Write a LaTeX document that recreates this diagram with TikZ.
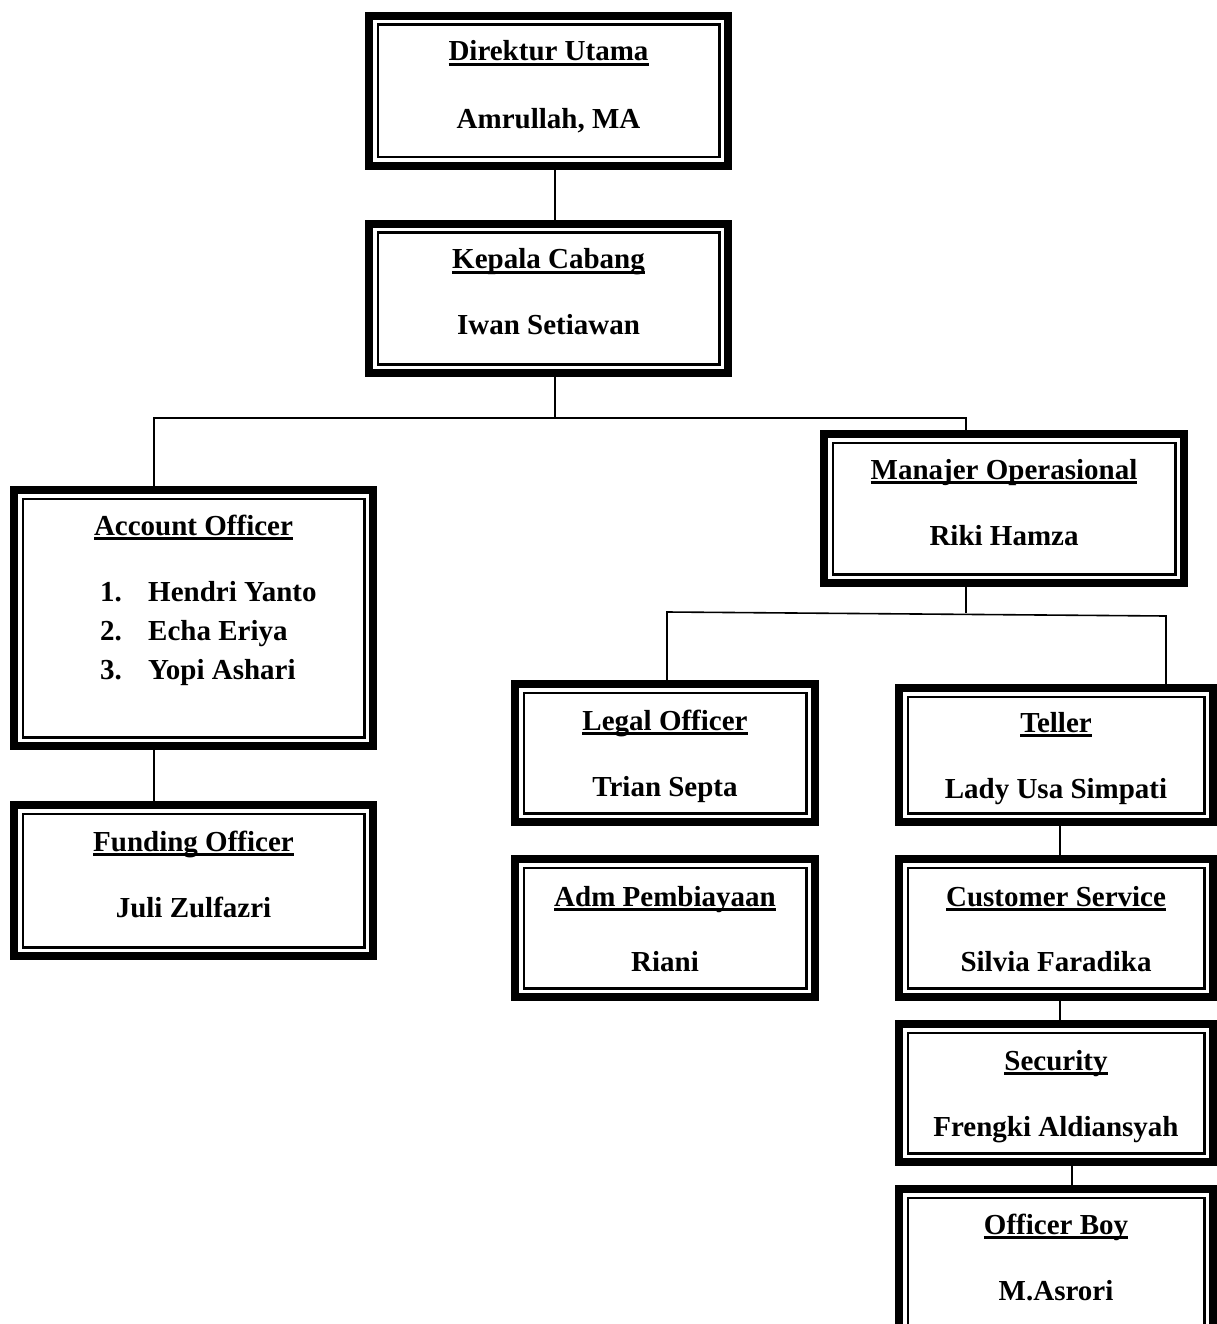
\documentclass[tikz,border=0pt]{standalone}
\usepackage{fontspec}
\setmainfont{Liberation Serif}
\newcommand\myul[1]{\setbox0\hbox{#1}\rlap{\rule[-5pt]{\wd0}{2.6pt}}\box0}
\begin{document}
\begin{tikzpicture}[x=1pt,y=-1pt,
  box/.style={draw, line width=8pt, fill=white, inner sep=0pt, outer sep=0pt, rectangle},
  ttl/.style={anchor=base, font=\fontsize{29}{34}\selectfont\bfseries, inner sep=0pt},
  lst/.style={anchor=base west, font=\fontsize{29}{34}\selectfont\bfseries, inner sep=0pt},
  conn/.style={line width=1.6pt}]
\useasboundingbox (0,0) rectangle (1217,1324);
\clip (0,0) rectangle (1217,1324);
% boxes
\node[box, minimum width=359pt, minimum height=150pt] (D) at (548.5,91) {};
\node[box, minimum width=359pt, minimum height=149pt] (K) at (548.5,298.5) {};
\node[box, minimum width=359pt, minimum height=256pt] (AO) at (193.5,618) {};
\node[box, minimum width=359pt, minimum height=151pt] (FO) at (193.5,880.5) {};
\node[box, minimum width=360pt, minimum height=149pt] (MO) at (1004,508.5) {};
\node[box, minimum width=300pt, minimum height=138pt] (LO) at (665,753) {};
\node[box, minimum width=300pt, minimum height=138pt] (ADM) at (665,928) {};
\node[box, minimum width=314pt, minimum height=134pt] (T) at (1056,755) {};
\node[box, minimum width=314pt, minimum height=138pt] (CS) at (1056,928) {};
\node[box, minimum width=314pt, minimum height=138pt] (S) at (1056,1093) {};
\node[box, minimum width=314pt, minimum height=147pt] (OB) at (1056,1262.5) {};
\foreach \b in {D,K,AO,FO,MO,LO,ADM,T,CS,S,OB}
  \draw[line width=2.2pt] ([shift={(8.6pt,-8.6pt)}]\b.north west) rectangle ([shift={(-8.6pt,8.6pt)}]\b.south east);
% connectors
\coordinate (kb) at (555,418);
\coordinate (mb) at (966,613);
\coordinate (ml) at (667,612);
\coordinate (mr) at (1166,616);
\draw[conn] ([xshift=6.5pt]D.south) -- ([xshift=6.5pt]K.north);
\draw[conn] ([xshift=6.5pt]K.south) -- (kb);
\draw[conn] ([xshift=-39.5pt]AO.north) |- (kb) -| ([xshift=-38pt]MO.north);
\draw[conn] ([xshift=-39.5pt]AO.south) -- ([xshift=-39.5pt]FO.north);
\draw[conn] ([xshift=-38pt]MO.south) -- (mb);
\draw[conn] ([xshift=2pt]LO.north) -- (ml) -- (mr) -- ([xshift=110pt]T.north);
\draw[conn] ([xshift=4pt]T.south) -- ([xshift=4pt]CS.north);
\draw[conn] ([xshift=4pt]CS.south) -- ([xshift=4pt]S.north);
\draw[conn] ([xshift=16pt]S.south) -- ([xshift=16pt]OB.north);
% texts
\node[ttl] (Dt) at (548.5,61) {\myul{Direktur Utama}};
\node[ttl] (Dn) at (548.5,129) {Amrullah, MA};
\node[ttl] (Kt) at (548.5,269) {\myul{Kepala Cabang}};
\node[ttl] (Kn) at (548.5,334) {Iwan Setiawan};
\node[ttl] (AOt) at (193.5,535) {\myul{Account Officer}};
\node[lst] (n1) at (100,601) {1.};
\node[lst] (a1) at (148,601) {Hendri Yanto};
\node[lst] (n2) at (100,640) {2.};
\node[lst] (a2) at (148,640) {Echa Eriya};
\node[lst] (n3) at (100,679) {3.};
\node[lst] (a3) at (148,679) {Yopi Ashari};
\node[ttl] (FOt) at (193.5,851) {\myul{Funding Officer}};
\node[ttl] (FOn) at (193.5,917) {Juli Zulfazri};
\node[ttl] (MOt) at (1004,479) {\myul{Manajer Operasional}};
\node[ttl] (MOn) at (1004,545) {Riki Hamza};
\node[ttl] (LOt) at (665,730) {\myul{Legal Officer}};
\node[ttl] (LOn) at (665,796) {Trian Septa};
\node[ttl] (ADMt) at (665,906) {\myul{Adm Pembiayaan}};
\node[ttl] (ADMn) at (665,971) {Riani};
\node[ttl] (Tt) at (1056,732) {\myul{Teller}};
\node[ttl] (Tn) at (1056,798) {Lady Usa Simpati};
\node[ttl] (CSt) at (1056,906) {\myul{Customer Service}};
\node[ttl] (CSn) at (1056,971) {Silvia Faradika};
\node[ttl] (St) at (1056,1070) {\myul{Security}};
\node[ttl] (Sn) at (1056,1136) {Frengki Aldiansyah};
\node[ttl] (OBt) at (1056,1234) {\myul{Officer Boy}};
\node[ttl] (OBn) at (1056,1300) {M.Asrori};
\end{tikzpicture}
\end{document}
